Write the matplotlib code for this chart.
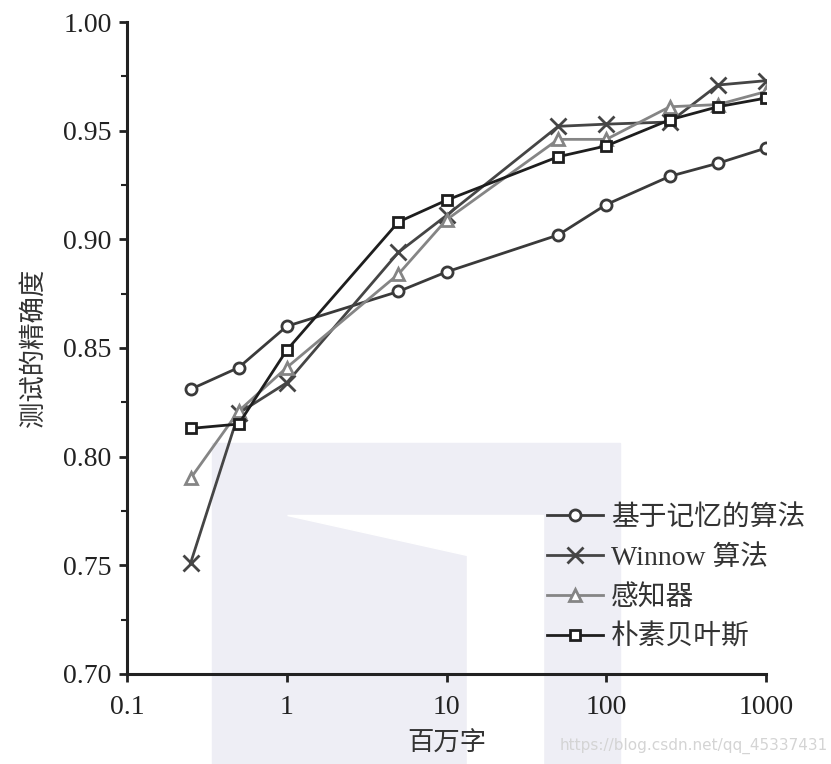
import matplotlib.pyplot as plt
from matplotlib.patches import Polygon, Rectangle
from matplotlib.ticker import FixedLocator, MultipleLocator, FuncFormatter

# ── data ──────────────────────────────────────────────────────────────────────
words = [0.25, 0.5, 1, 5, 10, 50, 100, 250, 500, 1000]
memory_based = [0.831, 0.841, 0.860, 0.876, 0.885, 0.902, 0.916, 0.929, 0.935, 0.942]
winnow       = [0.751, 0.820, 0.834, 0.894, 0.911, 0.952, 0.953, 0.954, 0.971, 0.973]
perceptron   = [0.790, 0.821, 0.841, 0.884, 0.909, 0.946, 0.946, 0.961, 0.962, 0.968]
naive_bayes  = [0.813, 0.815, 0.849, 0.908, 0.918, 0.938, 0.943, 0.955, 0.961, 0.965]

labels = ["基于记忆的算法", "Winnow 算法", "感知器", "朴素贝叶斯"]
x_ticks = [0.1, 1, 10, 100, 1000]
x_ticklabels = ["0.1", "1", "10", "100", "1000"]

cjk = ["Noto Sans CJK SC", "DejaVu Sans"]
serif = ["Liberation Serif", "Noto Sans CJK SC"]

W, H = 831, 764
fig = plt.figure(figsize=(W / 100, H / 100), dpi=100)
fig.patch.set_facecolor("white")

# ── faint background watermark shape ─────────────────────────────────────────
def px(x, y):
    return (x / W, 1 - y / H)

wm = "#eeeef5"
fig.patches.append(Rectangle(px(212, 764), (620 - 212) / W, (764 - 443) / H,
                             transform=fig.transFigure, color=wm, zorder=-2))
fig.patches.append(Polygon([px(287, 515), px(543, 515), px(543, 764),
                            px(467, 764), px(467, 555)],
                           closed=True, transform=fig.transFigure,
                           color="white", zorder=-1))

ax = fig.add_axes([127 / W, 1 - 674 / H, (766 - 127) / W, (674 - 22) / H])
ax.set_facecolor("none")

# ── series ────────────────────────────────────────────────────────────────────
ax.plot(words, memory_based, color="#3a3a3a", lw=2, marker="o", ms=8,
        mfc="white", mew=2, label=labels[0], zorder=3)
ax.plot(words, winnow, color="#454545", lw=2, marker="x", ms=11,
        mew=2, label=labels[1], zorder=3)
ax.plot(words, perceptron, color="#858585", lw=2, marker="^", ms=9,
        mfc="white", mew=2, label=labels[2], zorder=3)
ax.plot(words, naive_bayes, color="#1e1e1e", lw=2, marker="s", ms=7,
        mfc="white", mew=2, label=labels[3], zorder=4)

# ── axes ──────────────────────────────────────────────────────────────────────
ax.set_xscale("log")
ax.set_xlim(0.1, 1000)
ax.set_ylim(0.70, 1.00)
ax.xaxis.set_major_locator(FixedLocator(x_ticks))
ax.xaxis.set_minor_locator(FixedLocator([]))
ax.set_xticklabels(x_ticklabels)
ax.yaxis.set_major_locator(MultipleLocator(0.05))
ax.yaxis.set_minor_locator(MultipleLocator(0.025))
ax.yaxis.set_major_formatter(FuncFormatter(lambda v, _: f"{v:.2f}"))

for s in ["top", "right"]:
    ax.spines[s].set_visible(False)
for s in ["left", "bottom"]:
    ax.spines[s].set_linewidth(2.2)
    ax.spines[s].set_color("#222222")

ax.tick_params(axis="both", which="major", direction="out", length=6,
               width=2, color="#222222", labelsize=20, pad=5)
ax.tick_params(axis="x", which="major", pad=9)
ax.tick_params(axis="y", which="minor", direction="out", length=4,
               width=1.5, color="#222222")
for t in ax.get_xticklabels() + ax.get_yticklabels():
    t.set_family(serif)
    t.set_color("#222222")

ax.set_xlabel("百万字", family=cjk, fontsize=19, color="#333333", labelpad=7)
ax.set_ylabel("测试的精确度", family=cjk, fontsize=19, color="#333333", labelpad=12)

ax.legend(loc="upper left", bbox_to_anchor=(0.636, 0.28), frameon=False,
          prop={"family": serif, "size": 20}, handlelength=2.0,
          handletextpad=0.3, labelspacing=0.5, borderpad=0,
          labelcolor="#333333")

fig.text(828 / W, 1 - 746 / H, "https://blog.csdn.net/qq_45337431",
         ha="right", va="center", fontsize=11, color="#d4d4d4",
         family=["Liberation Sans Narrow", "DejaVu Sans"])

plt.savefig("out.png", dpi=100)
